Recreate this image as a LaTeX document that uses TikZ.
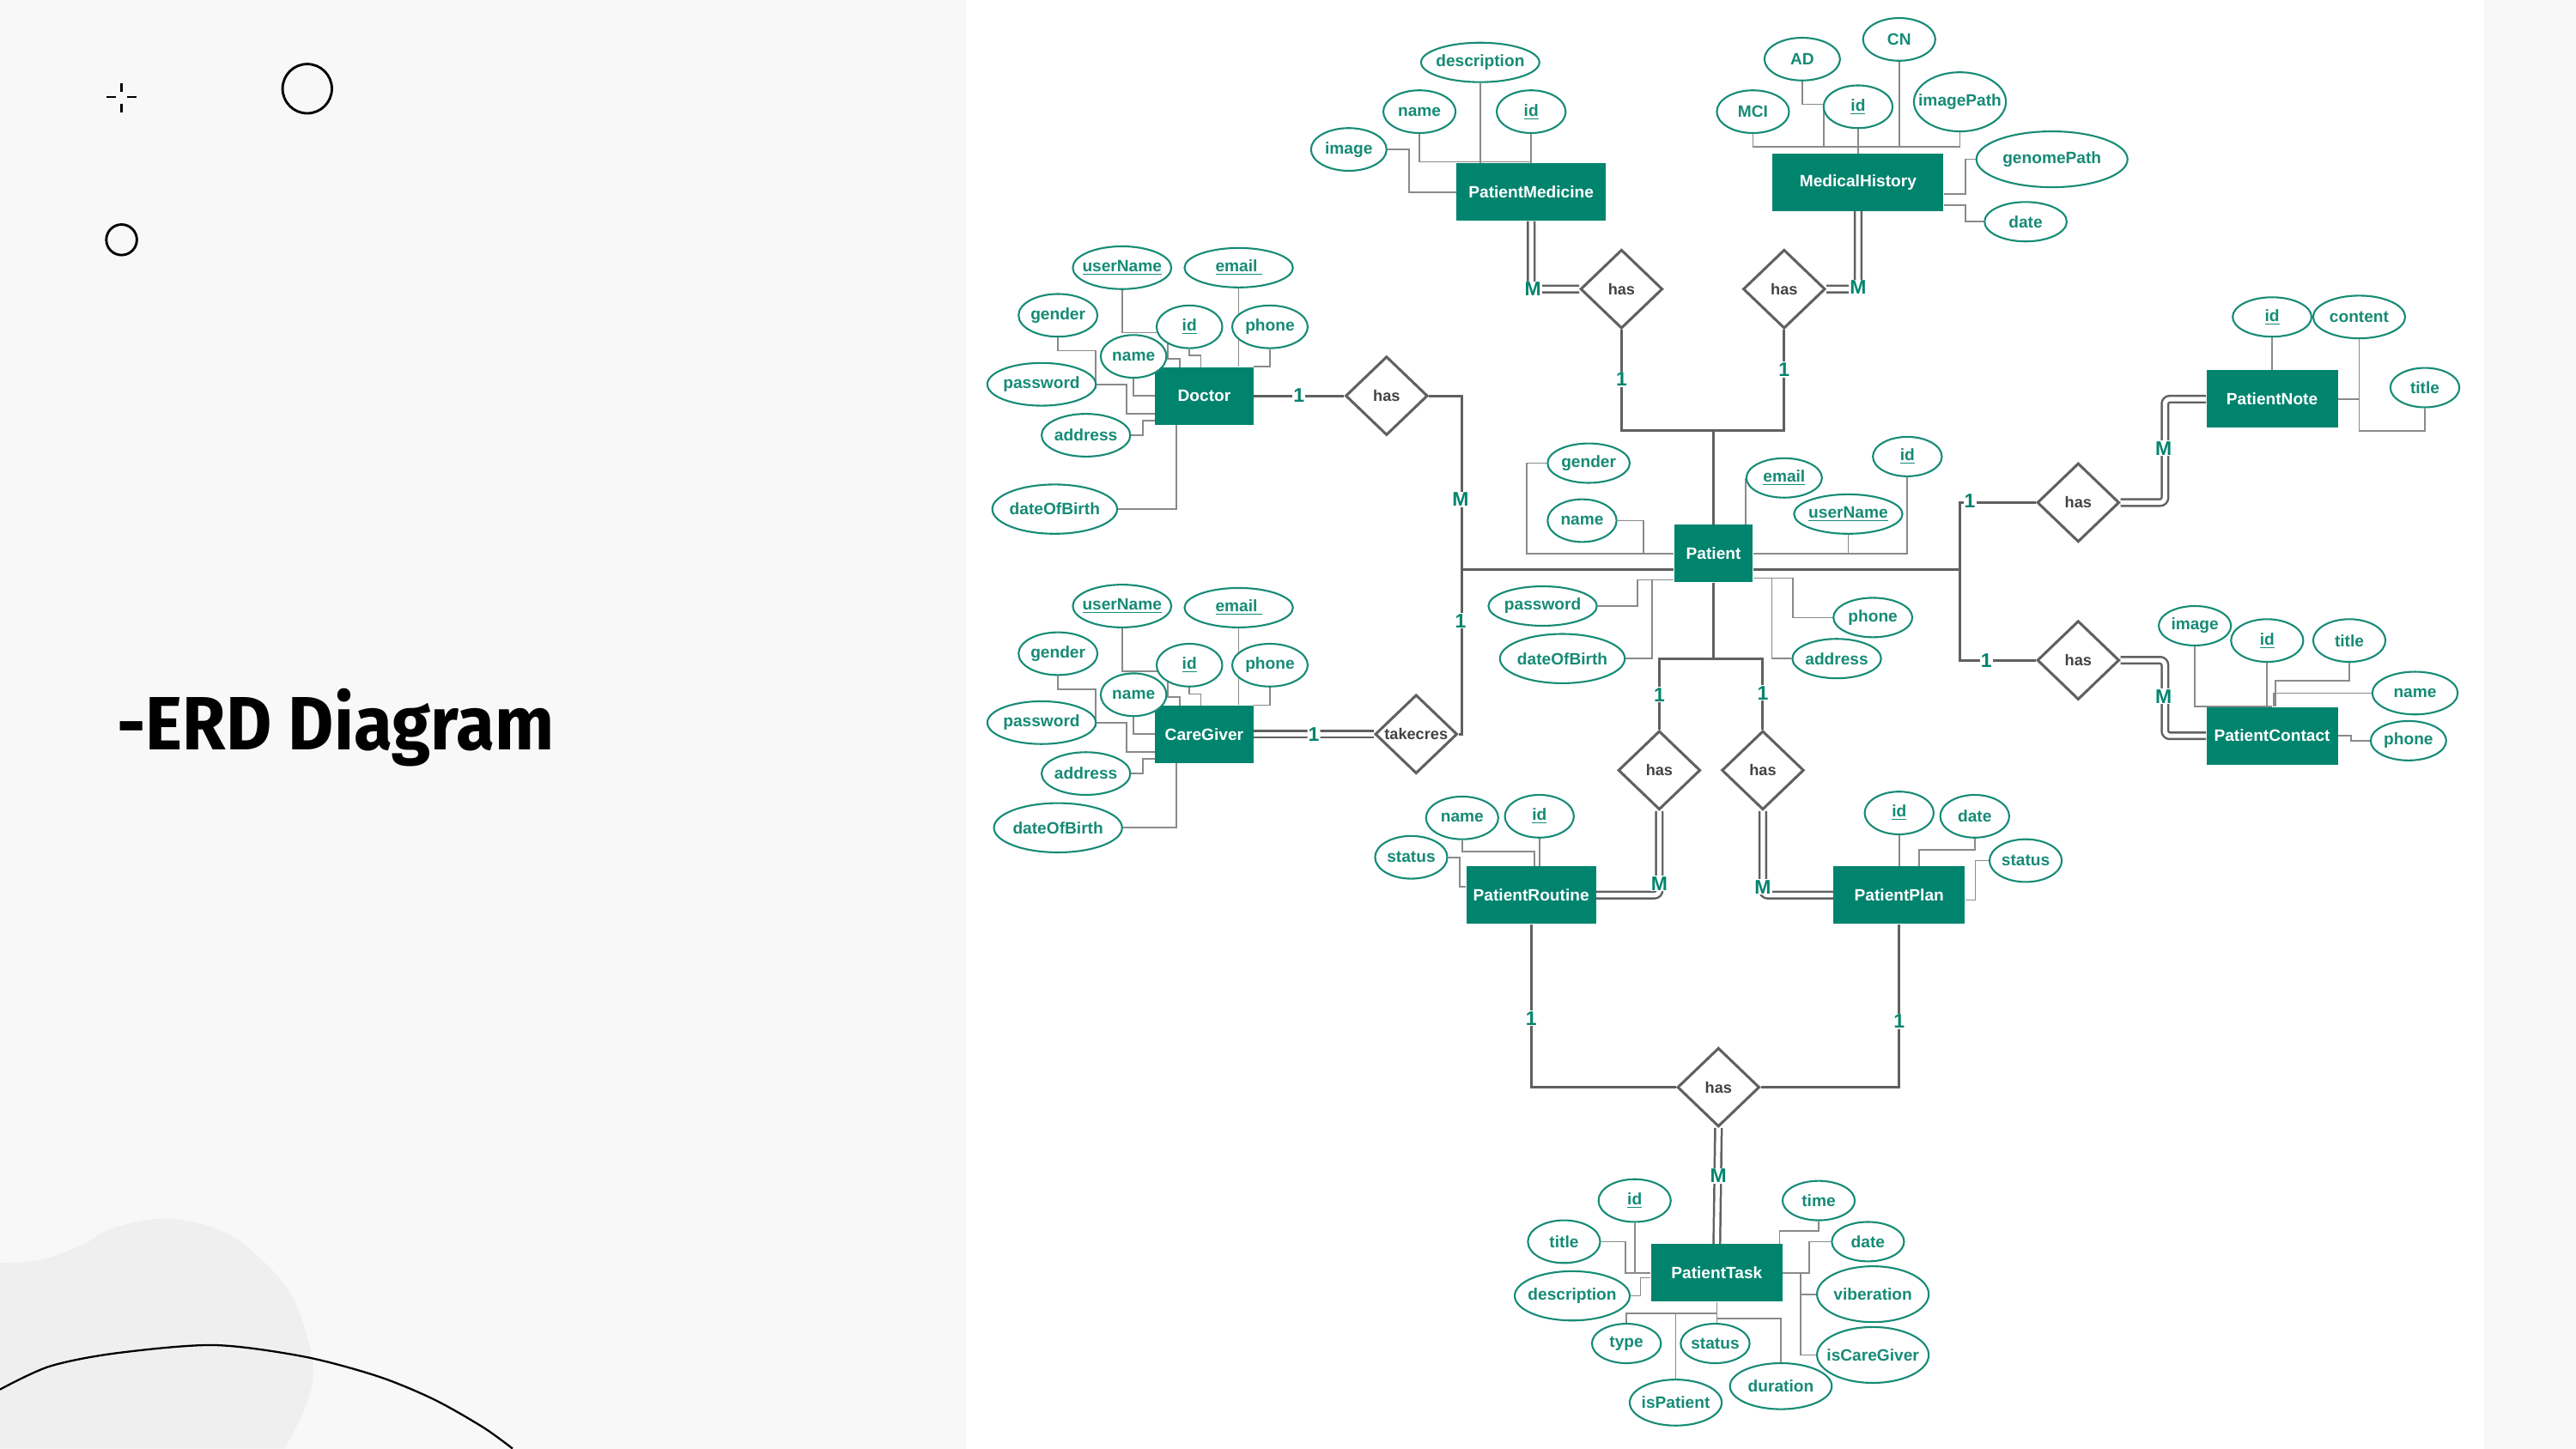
\documentclass[tikz,border=0pt]{standalone}
\usepackage{graphicx}
\usepackage{fontspec}
\setmainfont{Liberation Sans}
\newfontfamily\titlefont{Fira Sans}
\usetikzlibrary{shapes.geometric}
\definecolor{erdteal}{HTML}{00846E}
\definecolor{attrteal}{HTML}{168B76}
\definecolor{relgray}{HTML}{606060}
\definecolor{wiregray}{HTML}{8A8A8A}
\definecolor{panel}{HTML}{F8F8F8}
\definecolor{blob}{HTML}{EFEFEF}
\pgfdeclarelayer{back}
\pgfdeclarelayer{wires}
\pgfsetlayers{back,wires,main}
\newcommand\lbl[1]{\makebox[0pt]{#1}}
\begin{document}
\begin{tikzpicture}[x=1pt,y=-1pt,
entity/.style={rectangle,fill=erdteal,text=white,font=\bfseries\fontsize{10}{12}\selectfont,minimum width=#1,minimum height=35,inner sep=0},
attr/.style 2 args={ellipse,draw=attrteal,line width=1.1,fill=white,text=attrteal,font=\bfseries\fontsize{10}{12}\selectfont,minimum width=#1,minimum height=#2,inner sep=0},
rel/.style={diamond,draw=relgray,line width=1.6,fill=white,text=relgray!70!black,font=\bfseries\fontsize{9.5}{11}\selectfont,minimum width=50,minimum height=48,inner sep=0},
card/.style={text=erdteal,font=\bfseries\fontsize{12}{13}\selectfont,fill=white,inner sep=0.6},
link/.style={draw=relgray,line width=1.6},
dlink/.style={draw=relgray,line width=1.3,double=white,double distance=2.7,rounded corners=3},
wire/.style={draw=wiregray,line width=0.9}]
\useasboundingbox (0,0) rectangle (1568,882);

\begin{pgfonlayer}{back}
\fill[panel] (0,0) rectangle (588,882);
\fill[white] (588,0) rectangle (1512,882);
\fill[panel] (1512,0) rectangle (1568,882);
\fill[blob] plot[smooth,tension=0.6] coordinates {(0,769) (25,767) (50,758) (68,748) (98,742) (125,746) (149,758) (177,788) (190,828) (187,854) (173,882)} -- (0,882) -- cycle;
\draw[line width=1.2] plot[smooth] coordinates {(0,846) (30,832) (70,824) (130,819) (185,826) (230,838) (264,852) (294,869) (312,882)};
\end{pgfonlayer}

\draw[line width=1.3] (65,59) -- (70.5,59) (77.5,59) -- (83,59) (74,50.5) -- (74,56) (74,63) -- (74,68.5);
\draw[line width=1.5] (187,54) circle[radius=15pt];
\draw[line width=1.5] (74,146) circle[radius=9.3pt];
\node[anchor=west,inner sep=0,font=\titlefont\bfseries\fontsize{46}{52}\selectfont] (title) at (71,443) {\scalebox{0.93}[1]{-ERD Diagram}};

\node[entity=91] (pm) at (932,117) {PatientMedicine};
\node[entity=104] (mh) at (1131,111) {MedicalHistory};
\node[entity=60] (doc) at (733,241) {Doctor};
\node[entity=48] (pat) at (1043,337) {Patient};
\node[entity=60] (cg) at (733,447) {CareGiver};
\node[entity=80] (note) at (1383,243) {PatientNote};
\node[entity=80] (contact) at (1383,448) {PatientContact};
\node[entity=79] (routine) at (932,545) {PatientRoutine};
\node[entity=80] (plan) at (1156,545) {PatientPlan};
\node[entity=80] (task) at (1045,775) {PatientTask};

\node[rel] (hasDoc) at (844,241) {\lbl{has}};
\node[rel] (hasPM) at (987,176) {\lbl{has}};
\node[rel] (hasMH) at (1086,176) {\lbl{has}};
\node[rel] (takes) at (862,447) {\lbl{takecres}};
\node[rel] (hasNote) at (1265,306) {\lbl{has}};
\node[rel] (hasContact) at (1265,402) {\lbl{has}};
\node[rel] (hasRoutine) at (1010,469) {\lbl{has}};
\node[rel] (hasPlan) at (1073,469) {\lbl{has}};
\node[rel] (hasTask) at (1046,662) {\lbl{has}};

\node[attr={72}{24}] (pmDesc) at (901,38) {\lbl{description}};
\node[attr={44}{26}] (pmName) at (864,68) {\lbl{name}};
\node[attr={42}{26}] (pmId) at (932,68) {\lbl{\underline{id}}};
\node[attr={46}{26}] (pmImage) at (821,91) {\lbl{image}};

\node[attr={44}{26}] (mhCN) at (1156,24) {\lbl{CN}};
\node[attr={46}{26}] (mhAD) at (1097,36) {\lbl{AD}};
\node[attr={44}{26}] (mhMCI) at (1067,68) {\lbl{MCI}};
\node[attr={42}{26}] (mhId) at (1131,65) {\lbl{\underline{id}}};
\node[attr={56}{36}] (mhImage) at (1193,62) {\lbl{imagePath}};
\node[attr={92}{34}] (mhGenome) at (1249,97) {\lbl{genomePath}};
\node[attr={50}{24}] (mhDate) at (1233,135) {\lbl{date}};

\node[attr={60}{26}] (dUser) at (683,163) {\lbl{\underline{userName}}};
\node[attr={66}{24}] (dEmail) at (754,163) {\lbl{\underline{email~}}};
\node[attr={48}{26}] (dGender) at (644,192) {\lbl{gender}};
\node[attr={40}{26}] (dId) at (724,199) {\lbl{\underline{id}}};
\node[attr={46}{26}] (dPhone) at (773,199) {\lbl{phone}};
\node[attr={40}{26}] (dName) at (690,217) {\lbl{name}};
\node[attr={66}{26}] (dPass) at (634,234) {\lbl{password}};
\node[attr={54}{26}] (dAddr) at (661,265) {\lbl{address}};
\node[attr={76}{30}] (dBirth) at (642,310) {\lbl{dateOfBirth}};

\node[attr={60}{26}] (gUser) at (683,369) {\lbl{\underline{userName}}};
\node[attr={66}{24}] (gEmail) at (754,370) {\lbl{\underline{email~}}};
\node[attr={48}{26}] (gGender) at (644,398) {\lbl{gender}};
\node[attr={40}{26}] (gId) at (724,405) {\lbl{\underline{id}}};
\node[attr={46}{26}] (gPhone) at (773,405) {\lbl{phone}};
\node[attr={40}{26}] (gName) at (690,423) {\lbl{name}};
\node[attr={66}{26}] (gPass) at (634,440) {\lbl{password}};
\node[attr={54}{26}] (gAddr) at (661,471) {\lbl{address}};
\node[attr={78}{30}] (gBirth) at (644,504) {\lbl{dateOfBirth}};

\node[attr={50}{24}] (pGender) at (967,282) {\lbl{gender}};
\node[attr={42}{26}] (pName) at (963,317) {\lbl{name}};
\node[attr={46}{24}] (pEmail) at (1086,291) {\lbl{\underline{email}}};
\node[attr={42}{24}] (pId) at (1161,278) {\lbl{\underline{id}}};
\node[attr={66}{24}] (pUser) at (1125,313) {\lbl{\underline{userName}}};
\node[attr={66}{24}] (pPass) at (939,369) {\lbl{password}};
\node[attr={76}{30}] (pBirth) at (951,401) {\lbl{dateOfBirth}};
\node[attr={48}{24}] (pPhone) at (1140,376) {\lbl{phone}};
\node[attr={54}{24}] (pAddr) at (1118,401) {\lbl{address}};

\node[attr={48}{24}] (nId) at (1383,193) {\lbl{\underline{id}}};
\node[attr={56}{26}] (nContent) at (1436,193) {\lbl{content}};
\node[attr={42}{24}] (nTitle) at (1476,236) {\lbl{title}};

\node[attr={44}{24}] (ctImage) at (1336,381) {\lbl{image}};
\node[attr={44}{26}] (ctId) at (1380,390) {\lbl{\underline{id}}};
\node[attr={44}{26}] (ctTitle) at (1430,390) {\lbl{title}};
\node[attr={52}{26}] (ctName) at (1470,422) {\lbl{name}};
\node[attr={46}{24}] (ctPhone) at (1466,451) {\lbl{phone}};

\node[attr={44}{26}] (rName) at (890,498) {\lbl{name}};
\node[attr={42}{26}] (rId) at (937,497) {\lbl{\underline{id}}};
\node[attr={44}{26}] (rStatus) at (859,522) {\lbl{status}};

\node[attr={42}{26}] (plId) at (1156,495) {\lbl{\underline{id}}};
\node[attr={42}{26}] (plDate) at (1202,497) {\lbl{date}};
\node[attr={44}{26}] (plStatus) at (1233,524) {\lbl{status}};

\node[attr={44}{26}] (tId) at (995,731) {\lbl{\underline{id}}};
\node[attr={44}{26}] (tTitle) at (952,756) {\lbl{title}};
\node[attr={70}{30}] (tDesc) at (957,789) {\lbl{description}};
\node[attr={42}{24}] (tType) at (990,818) {\lbl{type}};
\node[attr={42}{24}] (tStatus) at (1044,818) {\lbl{status}};
\node[attr={56}{28}] (tPatient) at (1020,854) {\lbl{isPatient}};
\node[attr={62}{28}] (tDuration) at (1084,844) {\lbl{duration}};
\node[attr={44}{24}] (tTime) at (1107,731) {\lbl{time}};
\node[attr={44}{24}] (tDate) at (1137,756) {\lbl{date}};
\node[attr={68}{34}] (tVib) at (1140,788) {\lbl{viberation}};
\node[attr={68}{34}] (tCare) at (1140,825) {\lbl{isCareGiver}};

\begin{pgfonlayer}{wires}
\draw[wire] (pmName.south) -- ++(0,17) -| (pm.north);
\draw[wire] (pmDesc.south) -- (pmDesc.south |- pm.north);
\draw[wire] (pmId.south) -- (pm.north);
\draw[wire] (pmImage.east) -- ++(13,0) |- (pm.west);

\coordinate (mhBus) at (1131,89);
\draw[wire] (mhMCI.south) -- ++(0,8) -| (mhImage.south);
\draw[wire] (mhId.south) -- (mh.north);
\draw[wire] (mhCN.south) -- (mhCN.south |- mhBus);
\draw[wire] (mhAD.south) -- ++(0,14) -- ++(13,0) -- ++(0,26);
\draw[wire] (mh.east) ++(0,7) -- ++(13,0) |- (mhGenome.west);
\draw[wire] (mh.east) ++(0,14) -- ++(13,0) |- (mhDate.west);

\draw[wire] (dUser.south) -- ++(0,26) -- ++(28,0) -- ++(0,16) -- ++(7,0) -- ++(0,7);
\draw[wire] (dId.south) -- ++(0,4) -- ++(7,0) -- ++(0,8);
\draw[wire] (dEmail.south) -- (dEmail.south |- doc.north);
\draw[wire] (dPhone.south) |- (doc.north east);
\draw[wire] (dGender.south) -- ++(0,8) -- ++(23,0) -- ++(0,23);
\draw[wire] (dPass.east) -- ++(18,0) |- ([yshift=-11pt]doc.west);
\draw[wire] (dName.south) |- (doc.west);
\draw[wire] (dAddr.east) -- ++(7,0) |- ([yshift=-15pt]doc.west);
\draw[wire] (dBirth.east) -| ([xshift=-17pt]doc.south);

\draw[wire] (gUser.south) -- ++(0,26) -- ++(28,0) -- ++(0,16) -- ++(7,0) -- ++(0,7);
\draw[wire] (gId.south) -- ++(0,4) -- ++(7,0) -- ++(0,8);
\draw[wire] (gEmail.south) -- (gEmail.south |- cg.north);
\draw[wire] (gPhone.south) |- (cg.north east);
\draw[wire] (gGender.south) -- ++(0,8) -- ++(23,0) -- ++(0,23);
\draw[wire] (gPass.east) -- ++(18,0) |- ([yshift=-11pt]cg.west);
\draw[wire] (gName.south) |- (cg.west);
\draw[wire] (gAddr.east) -- ++(7,0) |- ([yshift=-15pt]cg.west);
\draw[wire] (gBirth.east) -| ([xshift=-17pt]cg.south);

\draw[wire] (pGender.west) -- ++(-12,0) |- (pat.west);
\draw[wire] (pName.east) -- ++(16,0) |- (pat.west);
\draw[wire] (pEmail.west) -- (pEmail.west |- pat.north);
\draw[wire] (pId.south) |- (pat.east);
\draw[wire] (pUser.south) -- (pUser.south |- pat.east);
\draw[wire] (pPass.east) -- ++(24,0) |- ([yshift=-16pt]pat.west);
\draw[wire] (pBirth.east) -- ++(16,0) |- ([yshift=-16pt]pat.west);
\draw[wire] (pPhone.west) -- ++(-24,0) |- ([yshift=-15pt]pat.east);
\draw[wire] (pAddr.west) -- ++(-12,0) |- ([yshift=-15pt]pat.east);

\draw[wire] (nId.south) -- (note.north);
\draw[wire] (nContent.south) -- ++(0,56) -| (nTitle.south);
\draw[wire] (note.east) -- (note.east -| nContent.south);

\draw[wire] (ctImage.south) |- (contact.north);
\draw[wire] (ctId.south) -- (ctId.south |- contact.north);
\draw[wire] (ctTitle.south) -- ++(0,11) -| ([xshift=2pt]contact.north);
\draw[wire] (ctName.west) -| ([xshift=1pt]contact.north);
\draw[wire] (contact.east) -- ++(8,0) |- (ctPhone.west);

\draw[wire] (rName.south) -- ++(0,7) -| ([xshift=2pt]routine.north);
\draw[wire] (rId.south) -- (rId.south |- routine.north);
\draw[wire] (rStatus.east) -- ++(7,0) |- ([yshift=5pt]routine.west);

\draw[wire] (plId.south) -- (plan.north);
\draw[wire] (plDate.south) -- ++(0,7) -| ([xshift=12pt]plan.north);
\draw[wire] (plStatus.west) -- ++(-8,0) |- ([yshift=-3pt]plan.east);

\draw[wire] (tTitle.east) -- ++(15,0) |- (task.west);
\draw[wire] (tId.south) -- (tId.south |- task.west);
\draw[wire] (tDesc.east) -- ++(6,0) |- ([yshift=-3pt]task.west);
\draw[wire] (task.south) -- (task.south |- tStatus.north);
\draw[wire] (tType.north) |- ([yshift=-7pt]task.south);
\draw[wire] (tPatient.north) -- ++(0,-40);
\draw[wire] (tDuration.north) |- ([yshift=-10pt]task.south);
\draw[wire] (tTime.south) -- ++(0,6) -| ([xshift=-2pt]task.north east);
\draw[wire] (task.east) -- ++(16,0) |- (tDate.west);
\draw[wire] ([xshift=11pt]task.east) |- (tCare.west);
\draw[wire] (tVib.west) -| ([xshift=11pt]task.east);
\end{pgfonlayer}

\coordinate (jL) at (889,347);
\coordinate (jR) at (1193,347);
\coordinate (jT) at (1043,262);
\coordinate (jB) at (1043,401);

\draw[link] (doc.east) -- node[card] {1} (hasDoc.west);
\draw[link] (hasDoc.east) -- ++(20,0) |- (takes.east);
\draw[link] (jL) -- (jL -| pat.west);
\draw[link] (jR -| pat.east) -- (jR);
\draw[link] (hasNote.west) -- (hasNote.west -| jR) -- (hasContact.west -| jR) -- (hasContact.west);
\draw[link] (pat.north) -- (jT);
\draw[link] (hasPM.south) |- (jT) -| (hasMH.south);
\draw[link] (pat.south) -- (jB);
\draw[link] (hasRoutine.north) |- (jB) -| (hasPlan.north);
\draw[link] (routine.south) |- (hasTask.west);
\draw[link] (plan.south) |- (hasTask.east);

\draw[dlink] (cg.east) -- node[card] {1} (takes.west);
\draw[dlink] (hasPM.west) -| (pm.south);
\draw[dlink] (hasMH.east) -| (mh.south);
\draw[dlink] (hasNote.east) -- ++(27,0) |- (note.west);
\draw[dlink] (hasContact.east) -- ++(27,0) |- (contact.west);
\draw[dlink] (hasRoutine.south) |- (routine.east);
\draw[dlink] (hasPlan.south) |- (plan.west);
\draw[dlink] (hasTask.south) -- (task.north);

\node[card] (cDocM) at (889,304) {M};
\node[card] (cCgOne) at (889,378) {1};
\node[card] (cPmOne) at (987,231) {1};
\node[card] (cMhOne) at (1086,225) {1};
\node[card] (cRtOne) at (1010,423) {1};
\node[card] (cPlOne) at (1073,422) {1};
\node[card] (cNtOne) at (1199,305) {1};
\node[card] (cCtOne) at (1209,402) {1};
\node[card] (cPmM) at (933,176) {M};
\node[card] (cMhM) at (1131,175) {M};
\node[card] (cNtM) at (1317,273) {M};
\node[card] (cCtM) at (1317,424) {M};
\node[card] (cRtM) at (1010,538) {M};
\node[card] (cPlM) at (1073,540) {M};
\node[card] (cTkRt) at (932,620) {1};
\node[card] (cTkPl) at (1156,622) {1};
\node[card] (cTkM) at (1046,716) {M};
\end{tikzpicture}
\end{document}
